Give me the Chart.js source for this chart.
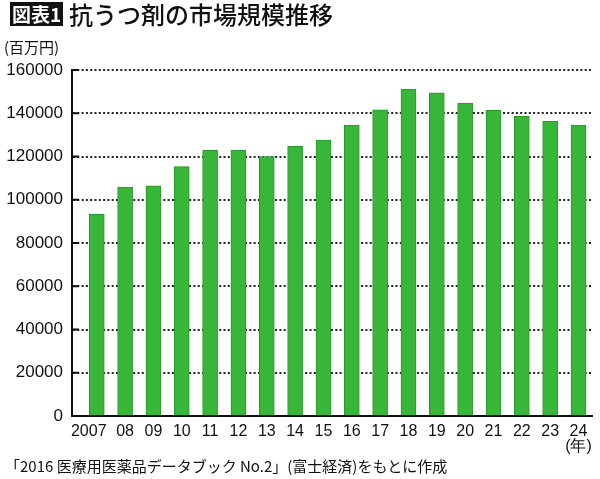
<!DOCTYPE html>
<html>
<head>
<meta charset="utf-8">
<script src="https://cdn.jsdelivr.net/npm/chart.js@4.4.1/dist/chart.umd.min.js"></script>
<style>
  html, body { margin:0; padding:0; background:#fff; }
  #wrap { position:relative; width:600px; height:479px; overflow:hidden; background:#fff; }
  #c { position:absolute; left:0; top:0; }
  .t { position:absolute; white-space:nowrap; color:#111; }
  #badge { left:10px; top:2px; width:53px; height:24px; background:#111; color:#fff;
           font:bold 19px "Noto Sans CJK JP", sans-serif; line-height:24px; text-align:center; }
  #title { left:69px; top:-2px; font:500 24px "Noto Sans CJK JP", sans-serif; line-height:32px; }
  #unit { left:4px; top:36px; font:15px "Noto Sans CJK JP", sans-serif; line-height:22px; }
  #foot { left:5px; top:455px; font:15px "Noto Sans CJK JP", sans-serif; line-height:22px; }
</style>
</head>
<body>
<div id="wrap">
  <canvas id="c" width="600" height="479"></canvas>
  <div class="t" id="badge">図表1</div>
  <div class="t" id="title">抗うつ剤の市場規模推移</div>
  <div class="t" id="unit">(百万円)</div>
  <div class="t" id="foot">「2016 医療用医薬品データブック No.2」(富士経済)をもとに作成</div>
</div>
<script>
const years = [2007,2008,2009,2010,2011,2012,2013,2014,2015,2016,2017,2018,2019,2020,2021,2022,2023,2024];
const yearLabels = ['2007','08','09','10','11','12','13','14','15','16','17','18','19','20','21','22','23','24'];
const yearUnit = '(年)';
const marketSize = [93400,105900,106400,115300,122900,123000,120000,124700,127600,134500,141600,151200,149400,144700,141300,138600,136300,134500];
const yTicks = [0,20000,40000,60000,80000,100000,120000,140000,160000];

const tickFont = { family: '"Liberation Sans", Arial, sans-serif', size: 16, lineHeight: 0.95 };

const axisDecor = {
  id: 'axisDecor',
  beforeDraw(chart) {
    // the first (4-digit) year label sits a little left of its bar, as in the source
    const items = chart.scales.x.getLabelItems();
    if (items.length) {
      items[0].options.translation[0] -= 8;
    }
  },
  beforeDatasetsDraw(chart) {
    const ctx = chart.ctx, y = chart.scales.y, a = chart.chartArea;
    ctx.save();
    ctx.strokeStyle = '#111';
    ctx.lineWidth = 2;
    y.ticks.forEach(t => {
      const py = y.getPixelForValue(t.value);
      ctx.beginPath();
      ctx.moveTo(a.left, py);
      ctx.lineTo(a.left + 7, py);
      ctx.stroke();
    });
    ctx.restore();
  }
};

new Chart(document.getElementById('c'), {
  type: 'bar',
  data: {
    datasets: [{
      data: years.map((yr, i) => ({ x: yr, y: marketSize[i] })),
      backgroundColor: '#38b638',
      borderColor: '#2c952c',
      borderWidth: 1,
      barThickness: 15
    }]
  },
  options: {
    responsive: false,
    animation: false,
    devicePixelRatio: 1,
    layout: { padding: { top: 70, right: 7, bottom: 0, left: 0 } },
    plugins: { legend: { display: false }, tooltip: { enabled: false }, title: { display: false } },
    scales: {
      x: {
        type: 'linear',
        offset: false,
        min: 2006.126,
        max: 2024.486,
        afterFit(axis) { axis.height = 63; },
        afterBuildTicks(axis) { axis.ticks = years.map(v => ({ value: v })); },
        grid: { display: false, offset: false, drawTicks: false },
        border: { display: true, color: '#111', width: 2 },
        ticks: {
          autoSkip: false,
          maxRotation: 0,
          padding: 8,
          color: '#111',
          font: tickFont,
          callback(v) {
            const i = years.indexOf(v);
            if (i < 0) return '';
            return i === years.length - 1 ? [yearLabels[i], yearUnit] : yearLabels[i];
          }
        }
      },
      y: {
        min: 0,
        max: 160000,
        afterFit(axis) { axis.width = 72; },
        afterBuildTicks(axis) { axis.ticks = yTicks.map(v => ({ value: v })); },
        grid: { color: '#222', lineWidth: 2, drawTicks: false },
        border: { display: true, color: '#111', width: 2, dash: [2, 2.3] },
        ticks: {
          padding: 9,
          color: '#111',
          font: { family: '"Liberation Sans", Arial, sans-serif', size: 17 },
          callback(v) { return String(v); }
        }
      }
    }
  },
  plugins: [axisDecor]
});
</script>
</body>
</html>
